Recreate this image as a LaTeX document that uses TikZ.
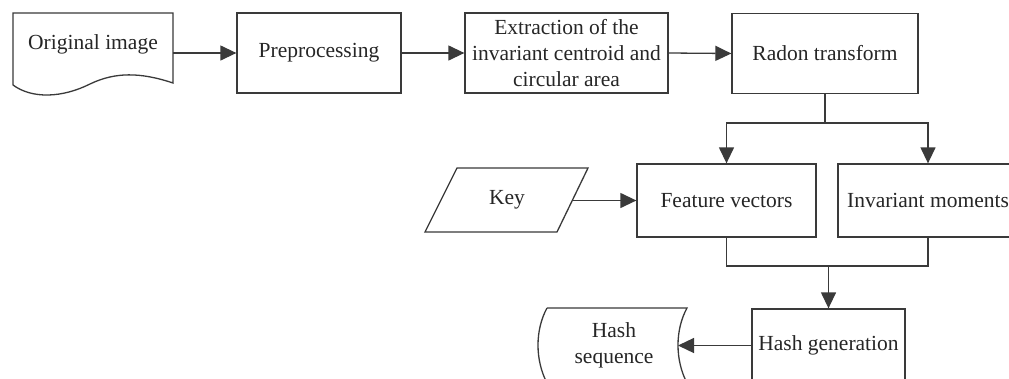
\documentclass[tikz,border=0pt]{standalone}
\usepackage{fontspec}
\setmainfont{Liberation Serif}
\usetikzlibrary{arrows.meta}
\definecolor{ln}{HTML}{3A3A3A}
\definecolor{tx}{HTML}{262626}
\begin{document}
\begin{tikzpicture}[x=1pt,y=-1pt,
  every node/.style={text=tx,font=\fontsize{21.5}{26}\selectfont},
  box/.style={draw=ln,line width=1.3pt,rectangle,inner sep=0pt,align=center},
  shp/.style={draw=ln,line width=1.3pt},
  link/.style={draw=ln,line width=1.3pt},
  arr/.style={link,-{Triangle[length=16pt,width=15pt]}}]
\useasboundingbox[fill=white] (0,0) rectangle (1009,378);
% Original image (document shape)
\draw[shp] (13,85) -- (13,13) -- (173,13) -- (173,83)
  .. controls (140,72) and (115,72) .. (90,84)
  .. controls (62,98) and (32,99) .. (13,85);
\node (orig) at (93,44) {Original image};
\coordinate (origR) at (173,53);
% Rectangles
\node[box,minimum width=164pt,minimum height=80pt] (pre) at (319,53) {Preprocessing};
\node[box,minimum width=203pt,minimum height=80pt] (ext) at (566.5,53) {Extraction of the\\invariant centroid and\\circular area};
\node[box,minimum width=186pt,minimum height=80pt] (radon) at (825,53.5) {Radon transform};
\node[box,minimum width=179pt,minimum height=73pt] (fv) at (726.5,200.5) {Feature vectors};
\node[box,minimum width=180pt,minimum height=73pt] (im) at (928,200.5) {Invariant moments};
\node[box,minimum width=153pt,minimum height=73pt] (hg) at (828.5,345.5) {Hash generation};
% Key (parallelogram)
\draw[shp] (457,168) -- (588,168) -- (557,232) -- (425,232) -- cycle;
\node (key) at (507,200) {Key};
\coordinate (keyR) at (572.5,200.5);
% Hash sequence (stored data shape)
\draw[shp] (547,308) -- (687,308) .. controls (675,330) and (675,360) .. (687,383)
  (547,308) .. controls (535,330) and (535,360) .. (547,383);
\node[align=center] (hs) at (614,345) {Hash\\sequence};
\coordinate (hsR) at (678,345.5);
% Connectors
\draw[arr] (origR) -- (pre.west);
\draw[arr] (pre.east) -- (ext.west);
\draw[arr] (ext.east) -- (radon.west);
\coordinate (split) at (825,123);
\draw[link] (radon.south) -- (split);
\draw[arr] (split) -| (fv.north);
\draw[arr] (split) -| (im.north);
\draw[arr] (keyR) -- (fv.west);
\coordinate (merge) at (828.5,266);
\draw[link] (fv.south) |- (merge);
\draw[link] (im.south) |- (merge);
\draw[arr] (merge) -- (hg.north);
\draw[arr] (hg.west) -- (hsR);
\end{tikzpicture}
\end{document}
